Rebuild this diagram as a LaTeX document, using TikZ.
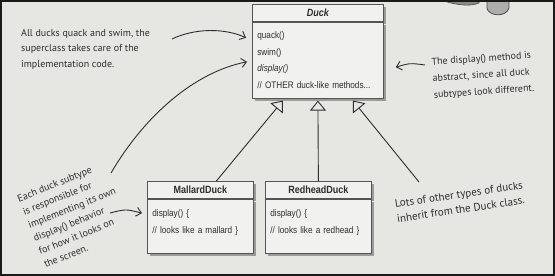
\documentclass[tikz,border=0pt]{standalone}
\usepackage{fontspec}
\newfontfamily\umlfont{Liberation Sans}[FakeStretch=0.86]
\newfontfamily\handfont{PT Sans}
\usetikzlibrary{arrows.meta,calc,shadows}
\definecolor{cPaper}{HTML}{E6E6E2}
\definecolor{cBox}{HTML}{F1F1EF}
\definecolor{cInk}{HTML}{2E2E2E}
\definecolor{cEdge}{HTML}{555555}
\definecolor{cFrame}{HTML}{1A1A1A}
\definecolor{cBlob}{HTML}{8A8A88}
\tikzset{
  sheet/.style={x=1pt, y=-1pt},
  boxshade/.style={drop shadow={shadow xshift=2.5pt, shadow yshift=-3pt, opacity=0.45, fill=black!75}},
  umlhead/.style={draw=cEdge, line width=0.8pt, fill=cBox, boxshade, anchor=north west, inner sep=0pt,
    minimum height=17pt, text=cInk, font=\umlfont\fontsize{10.5}{12}\selectfont\bfseries},
  umlbody/.style={draw=cEdge, line width=0.8pt, fill=cBox, boxshade, anchor=north west, inner xsep=5pt,
    inner ysep=0pt, align=left, text=cInk, font=\umlfont\fontsize{9.5}{16.5}\selectfont},
  hand/.style={font=\handfont\fontsize{10}{15.5}\selectfont, text=cInk, align=left, inner sep=1pt, anchor=north west},
  pen/.style={draw=cInk, line width=0.9pt, -{Straight Barb[length=5pt, width=9pt]}},
  inherit/.style={draw=cInk, line width=0.9pt, -{Triangle[open, length=10pt, width=16pt]}},
}

\begin{document}
\begin{tikzpicture}[sheet]
\useasboundingbox (0,0) rectangle (555,276);
\fill[cPaper] (0,0) rectangle (555,276);
% corner of a cartoon cut off by the page
\filldraw[fill=cBlob, draw=black!70, line width=0.6pt] (441,0) .. controls (455,5) and (470,7) .. (479,3) -- (479,0) -- cycle;
\filldraw[fill=cBlob!70, draw=black!70, line width=0.8pt] (487,0) -- (487,8) .. controls (488,16) and (506,18) .. (509,8) -- (509,0) -- cycle;

% superclass
\node[umlhead, minimum width=131pt] (duckhead) at (252,4) {\itshape Duck};
\node[umlbody, text width=121pt, minimum height=76pt] (duck) at (duckhead.south west)
  {quack()\\ swim()\\ \textit{display()}\\ // OTHER duck-like methods...};

% subclasses
\node[umlhead, minimum width=106pt] (mallardhead) at (147,181) {MallardDuck};
\node[umlbody, text width=96pt, minimum height=54pt, text depth=26pt] (mallard) at (mallardhead.south west)
  {display() \{\\ // looks like a mallard \}};
\node[umlhead, minimum width=106pt] (redheadhead) at (265,181) {RedheadDuck};
\node[umlbody, text width=96pt, minimum height=54pt, text depth=26pt] (redhead) at (redheadhead.south west)
  {display() \{\\ // looks like a redhead \}};

% notes
\node[hand] (quacknote) at (20,28) {All ducks quack and swim, the\\ superclass takes care of the\\ implementation code.};
\node[hand, rotate=4, font=\handfont\fontsize{10}{16.5}\selectfont] (abstractnote) at (430,57)
  {The display() method is\\ abstract, since all duck\\ subtypes look different.};
\node[hand, rotate=8.5, font=\handfont\fontsize{11}{15}\selectfont] (othernote) at (393,199)
  {Lots of other types of ducks\\ inherit from the Duck class.};
\node[hand, rotate=22, font=\handfont\fontsize{10}{14.2}\selectfont] (subnote) at (15,195)
  {Each duck subtype\\ is responsible for\\ implementing its own\\ display() behavior\\ for how it looks on\\ the screen.};

\coordinate (q1) at (172,39);
\coordinate (s1) at (111,173);
\coordinate (a1) at (425,65);
\coordinate (m1) at (110,213);
\coordinate (other) at (419,182);

% inheritance
\draw[inherit] ($(mallardhead.north)+(16,0)$) -- ($(duck.south)+(-35,2)$);
\draw[inherit] (redheadhead.north) -- ($(duck.south)+(0,2)$);
\draw[inherit] (other) -- ($(duck.south)+(35,2)$);

% hand drawn pointers
\draw[pen] (q1) .. controls (195,28) and (225,28) .. ($(duck.north west)+(-6,16)$);
\draw[pen] (s1) .. controls (145,115) and (195,72) .. ($(duck.north west)+(-5,40)$);
\draw[pen] (a1) .. controls (410,63) .. ($(duck.east)+(12,7)$);
\draw[pen] (m1) .. controls (126,209) .. ($(mallard.west)+(-5,-13)$);

\draw[cFrame, line width=4pt] (0,0) rectangle (555,276);
\end{tikzpicture}
\end{document}
